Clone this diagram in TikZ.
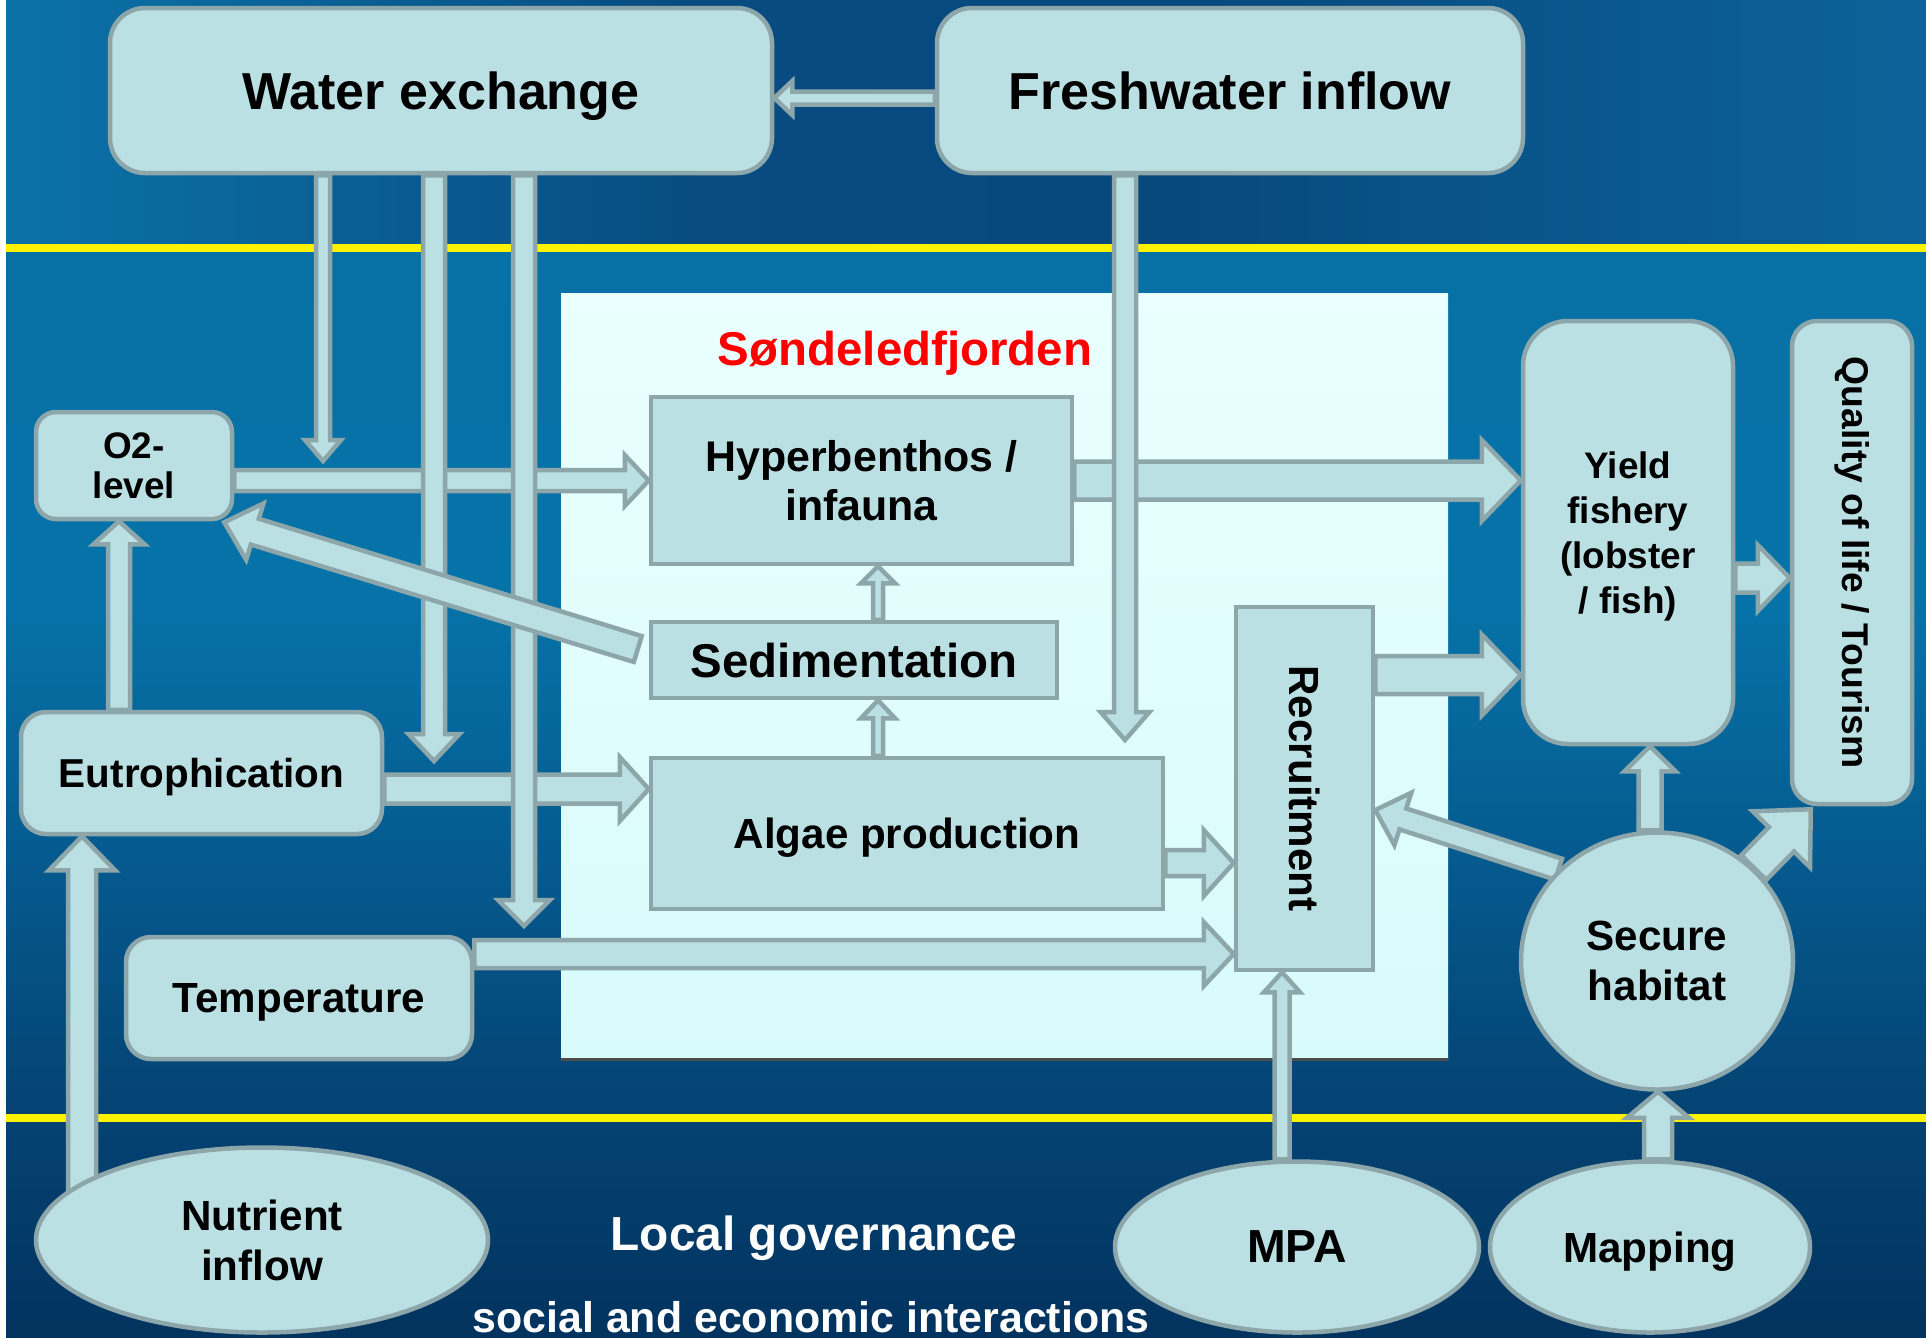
\documentclass[tikz,border=0pt]{standalone}
\usepackage{fontspec}
\setmainfont{Liberation Sans}
\usetikzlibrary{calc,shapes.geometric}

\definecolor{boxfill}{HTML}{BBE0E3}
\definecolor{boxedge}{HTML}{8DA6A9}
\definecolor{fjtop}{HTML}{EAFFFF}
\definecolor{fjbot}{HTML}{D8FBFB}
\definecolor{seab}{HTML}{03335F}
\definecolor{sea1}{HTML}{044474}
\definecolor{sea2}{HTML}{05568A}
\definecolor{sea3}{HTML}{0673A8}
\definecolor{sea4}{HTML}{0770A5}
\definecolor{skyl}{HTML}{0B72A8}
\definecolor{skym}{HTML}{084C81}
\definecolor{skyd}{HTML}{07487D}
\definecolor{skyr}{HTML}{0C6399}

\pgfdeclareverticalshading{seashade}{100bp}{color(0bp)=(seab); color(25bp)=(seab);
  color(36bp)=(sea1); color(45bp)=(sea2); color(59bp)=(sea3);
  color(75bp)=(sea4); color(100bp)=(sea4)}
\pgfdeclarehorizontalshading{skyshade}{100bp}{color(0bp)=(skyl); color(25bp)=(skyl);
  color(43bp)=(skym); color(55bp)=(skyd); color(75bp)=(skyr); color(100bp)=(skyr)}

\pgfdeclarelayer{sea}
\pgfdeclarelayer{flows}
\pgfsetlayers{sea,flows,main}

\newcommand{\fsz}[2]{\fontsize{#1}{#2}\selectfont}
% block arrow: shaft, head width, head length (in 0.1mm), from, to
\newcommand{\flow}[5]{%
  \coordinate (fa) at #4;
  \coordinate (fb) at #5;
  \coordinate (fc) at ($(fb)!#3*0.1mm!(fa)$);
  \draw[flowline] ($(fa)!#1*0.05mm!90:(fb)$) -- ($(fc)!#1*0.05mm!90:(fb)$)
    -- ($(fc)!#2*0.05mm!90:(fb)$) -- (fb) -- ($(fc)!#2*0.05mm!-90:(fb)$)
    -- ($(fc)!#1*0.05mm!-90:(fb)$) -- ($(fa)!#1*0.05mm!-90:(fb)$) -- cycle;}

\tikzset{
  box/.style={rectangle, draw=boxedge, fill=boxfill, line width=0.45mm, inner sep=0pt, align=center, text depth=0pt},
  rbox/.style={box, rounded corners=#1},
  rbox/.default=3mm,
  upright/.style={text depth={}},
  oval/.style={ellipse, draw=boxedge, fill=boxfill, line width=0.45mm, inner sep=0pt, align=center, text depth=0pt},
  flowline/.style={draw=boxedge, fill=boxfill, line width=0.45mm, line join=miter},
}

\begin{document}
\begin{tikzpicture}[x=0.1mm, y=-0.1mm]
\useasboundingbox (0,0) rectangle (1926,1337);

%Boxes
\node[rbox=3.5mm, minimum width=66.2mm, minimum height=16.5mm, font={\bfseries\fsz{14.8}{17}}] (water) at (441,90.5) {Water exchange};
\node[rbox=3.5mm, minimum width=58.6mm, minimum height=16.5mm, font={\bfseries\fsz{14.8}{17}}] (fresh) at (1230,90.5) {Freshwater inflow};
\node[rbox=2mm, minimum width=19.6mm, minimum height=10.7mm, font={\bfseries\fsz{10.5}{11.2}}] (o2) at (134,465.5) {O2-\\level};
\node[box, minimum width=42.1mm, minimum height=16.7mm, font={\bfseries\fsz{12.2}{14}}] (hyp) at (861.5,480.5) {Hyperbenthos /\\infauna};
\node[box, minimum width=40.6mm, minimum height=7.6mm, font={\bfseries\fsz{13.5}{15}}] (sed) at (854,660) {Sedimentation};
\node[box, minimum width=51.2mm, minimum height=15.1mm, font={\bfseries\fsz{12}{14}}] (alg) at (907,833.5) {Algae production};
\node[rbox=2.5mm, minimum width=36.1mm, minimum height=12.2mm, font={\bfseries\fsz{11.5}{13}}] (eut) at (201.5,773) {Eutrophication};
\node[rbox=2.5mm, minimum width=34.6mm, minimum height=12.2mm, font={\bfseries\fsz{12}{14}}] (temp) at (299,998) {Temperature};
\node[box, upright, minimum width=13.7mm, minimum height=36.3mm, font={\bfseries\fsz{12}{14}}] (rec) at (1304.5,788.5) {\rotatebox{-90}{Recruitment}};
\node[rbox=4.5mm, minimum width=21mm, minimum height=42.3mm, font={\bfseries\fsz{10.5}{12.8}}] (yield) at (1628,532.5) {Yield\\fishery\\(lobster\\/ fish)};
\node[rbox=2.5mm, upright, minimum width=12mm, minimum height=48.3mm, font={\bfseries\fsz{10.6}{12}}] (qual) at (1852,562.5) {\rotatebox{-90}{Quality of life / Tourism}};
%Ovals
\node[oval, minimum width=27.2mm, minimum height=25.7mm, font={\bfseries\fsz{12}{14.2}}] (sec) at (1657,961) {Secure\\habitat};
\node[oval, minimum width=45.2mm, minimum height=18.5mm, font={\bfseries\fsz{12}{14.2}}] (nutr) at (262,1240) {Nutrient\\inflow};
\node[oval, minimum width=36.4mm, minimum height=17.1mm, font={\bfseries\fsz{13.2}{15}}] (mpa) at (1297,1247) {MPA};
\node[oval, minimum width=32mm, minimum height=17.1mm, font={\bfseries\fsz{12}{14}}] (map) at (1650,1247) {Mapping};
%Labels
\node[anchor=base, text=red, font={\bfseries\fsz{13.5}{15}}] (fjord) at (905,365) {Søndeledfjorden};
\node[anchor=base, text=white, font={\bfseries\fsz{13.6}{15}}] (gov) at (814,1250) {Local governance};
\node[anchor=base, text=white, font={\bfseries\fsz{12.2}{14}}, text depth=0pt] (social) at (811,1332) {social and economic interactions};

%Free arrow ends
\coordinate (wx1) at (323,461);
\coordinate (wx2) at (434,761);
\coordinate (wx3) at (524,926);
\coordinate (fwend) at (1125,740);

%Background
\begin{pgfonlayer}{sea}
\fill[white] (0,0) rectangle (1926,1337);
\shade[shading=skyshade] (6,0) rectangle (1926,248);
\shade[shading=seashade] (6,248) rectangle (1926,1337);
\shade[top color=fjtop, bottom color=fjbot] (561,293) rectangle (1448,1059);
\draw[black!70, line width=0.3mm] (561,1059) -- (1448,1059);
\draw[yellow, line width=0.75mm] (6,248) -- (1926,248);
\draw[yellow, line width=0.75mm] (6,1118) -- (1926,1118);
\end{pgfonlayer}

%Arrows
\begin{pgfonlayer}{flows}
\flow{21}{51}{24}{(o2.east |- hyp.west)}{(hyp.west)}
\flow{29}{64}{29}{(eut.east |- 0,789)}{(alg.west |- 0,789)}
\flow{38}{81}{39}{(hyp.east)}{(yield.west |- hyp.east)}
\flow{28}{64}{30}{(temp.east |- 0,954)}{(rec.west |- 0,954)}
\flow{26}{66}{30}{(alg.east |- 0,863)}{(rec.west |- 0,863)}
\flow{38}{81}{39}{(rec.east |- 0,675)}{(yield.west |- 0,675)}
\flow{29}{66}{32}{(yield.east |- 0,578)}{(qual.west |- 0,578)}
\flow{13}{34}{18}{(fresh.west |- 0,98)}{(water.east |- 0,98)}
\flow{22}{51}{23}{(119,0 |- eut.north)}{(119,0 |- o2.south)}
\flow{28}{66}{34}{(nutr.center -| 82,0)}{(82,0 |- eut.south)}
\flow{10}{34}{17}{(878,0 |- sed.north)}{(878,0 |- hyp.south)}
\flow{10}{34}{18}{(878,0 |- alg.north)}{(878,0 |- sed.south)}
\flow{23}{51}{25}{(1650,0 |- sec.north)}{(1650,0 |- yield.south)}
\flow{15}{36}{20}{(1282,0 |- mpa.north)}{(1282,0 |- rec.south)}
\flow{28}{62}{26}{(1658,0 |- map.north)}{(1658,0 |- sec.south)}
\flow{22}{49}{28}{(1125,0 |- fresh.south)}{(fwend)}
\flow{14}{36}{21}{(323,0 |- water.south)}{(wx1)}
\flow{22}{51}{27}{(434,0 |- water.south)}{(wx2)}
\flow{22}{52}{26}{(524,0 |- water.south)}{(wx3)}
\flow{27}{59}{32}{($(sed.west)+(-11,-11)$)}{($(o2.south east)+(-10,1)$)}
\flow{22}{55}{29}{(sec.137)}{(rec.east |- 0,810)}
\flow{35}{80}{42}{(sec.44)}{($(qual.south west)+(21,3)$)}
\end{pgfonlayer}
\end{tikzpicture}
\end{document}
